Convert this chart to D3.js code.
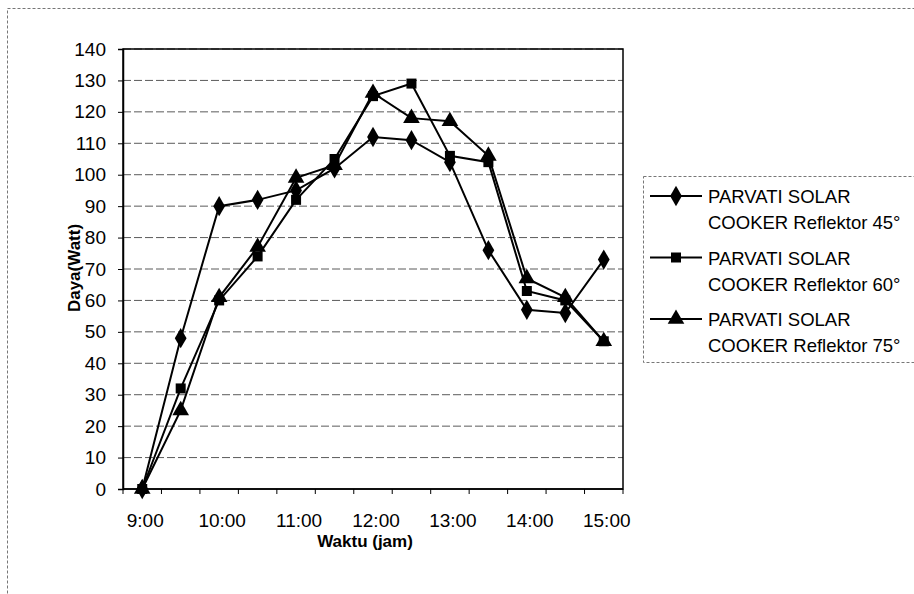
<!DOCTYPE html>
<html>
<head>
<meta charset="utf-8">
<script src="https://cdn.jsdelivr.net/npm/d3@7"></script>
<style>
  html, body { margin: 0; padding: 0; background: #fff; }
  svg { display: block; font-family: Arial, "Liberation Sans", sans-serif; }
</style>
</head>
<body>
<svg id="chart" width="914" height="594"></svg>
<script>
// Measurement times (every 30 minutes) and solar cooker power in watts
const times = ["9:00", "9:30", "10:00", "10:30", "11:00", "11:30", "12:00",
               "12:30", "13:00", "13:30", "14:00", "14:30", "15:00"];
const tickLabels = ["9:00", "10:00", "11:00", "12:00", "13:00", "14:00", "15:00"];
const yTicks = [0, 10, 20, 30, 40, 50, 60, 70, 80, 90, 100, 110, 120, 130, 140];

const reflektor45 = [0, 48, 90, 92, 95, 102, 112, 111, 104, 76, 57, 56, 73];
const reflektor60 = [0, 32, 60, 74, 92, 105, 125, 129, 106, 104, 63, 60, 47];
const reflektor75 = [0, 25, 61, 77, 99, 103, 126, 118, 117, 106, 67, 61, 47];

const seriesNames = [
  ["PARVATI SOLAR", "COOKER Reflektor 45°"],
  ["PARVATI SOLAR", "COOKER Reflektor 60°"],
  ["PARVATI SOLAR", "COOKER Reflektor 75°"]
];
const seriesValues = [reflektor45, reflektor60, reflektor75];
const seriesSymbols = [d3.symbolDiamond, d3.symbolSquare, d3.symbolTriangle];
const symbolSizes = [120, 100, 120];

const svg = d3.select("#chart");

// Outer chart frame (dotted)
svg.append("rect")
  .attr("x", 7.5).attr("y", 8.5).attr("width", 1000).attr("height", 1000)
  .attr("fill", "none").attr("stroke", "#777").attr("stroke-width", 1)
  .attr("stroke-dasharray", "3,2");

const plot = { left: 123, right: 623, top: 49, bottom: 489 };

const x = d3.scaleBand().domain(times).range([plot.left, plot.right]);
const y = d3.scaleLinear().domain([0, 140]).range([plot.bottom, plot.top]);
const cx = t => x(t) + x.bandwidth() / 2;

// Horizontal gridlines
svg.append("g")
  .selectAll("line")
  .data(yTicks.filter(v => v > 0))
  .join("line")
  .attr("x1", plot.left).attr("x2", plot.right)
  .attr("y1", d => y(d)).attr("y2", d => y(d))
  .attr("stroke", "#333").attr("stroke-width", 1)
  .attr("stroke-dasharray", "8,3")
  .attr("opacity", 0.8);

// Plot area border
svg.append("rect")
  .attr("x", plot.left).attr("y", plot.top)
  .attr("width", plot.right - plot.left).attr("height", plot.bottom - plot.top)
  .attr("fill", "none").attr("stroke", "#000").attr("stroke-width", 1.5);

// Y axis
const yAxis = svg.append("g")
  .attr("transform", `translate(${plot.left},0)`)
  .call(d3.axisLeft(y).tickValues(yTicks).tickSize(5).tickPadding(12));
yAxis.select(".domain").attr("stroke", "#000").attr("stroke-width", 1.5);
yAxis.selectAll("text").attr("font-size", 19).attr("fill", "#000")
  .attr("font-family", "Arial, 'Liberation Sans', sans-serif");

// X axis: ticks between categories, labels every hour
const xAxisG = svg.append("g").attr("transform", `translate(0,${plot.bottom})`);
xAxisG.append("line")
  .attr("x1", plot.left).attr("x2", plot.right)
  .attr("stroke", "#000").attr("stroke-width", 1.5);
const boundaries = times.map(t => x(t)).concat([plot.right]);
xAxisG.selectAll("line.tick")
  .data(boundaries)
  .join("line")
  .attr("class", "tick")
  .attr("x1", d => d).attr("x2", d => d)
  .attr("y1", 0).attr("y2", 5)
  .attr("stroke", "#000");
xAxisG.selectAll("text")
  .data(tickLabels)
  .join("text")
  .attr("x", d => cx(d) + 3)
  .attr("y", 38)
  .attr("text-anchor", "middle")
  .attr("font-size", 19)
  .text(d => d);

// Axis titles
svg.append("text")
  .attr("x", 365).attr("y", 547)
  .attr("text-anchor", "middle")
  .attr("font-size", 17).attr("font-weight", "bold")
  .text("Waktu (jam)");

svg.append("text")
  .attr("transform", "translate(80,268) rotate(-90)")
  .attr("text-anchor", "middle")
  .attr("font-size", 17).attr("font-weight", "bold")
  .text("Daya(Watt)");

// Series lines and markers
const line = d3.line().x((d, i) => cx(times[i])).y(d => y(d));
seriesValues.forEach((vals, s) => {
  svg.append("path")
    .datum(vals)
    .attr("d", line)
    .attr("fill", "none")
    .attr("stroke", "#000")
    .attr("stroke-width", 2);
});
seriesValues.forEach((vals, s) => {
  const sym = d3.symbol().type(seriesSymbols[s]).size(symbolSizes[s]);
  svg.append("g")
    .selectAll("path")
    .data(vals)
    .join("path")
    .attr("transform", (d, i) => `translate(${cx(times[i])},${y(d)})`)
    .attr("d", sym)
    .attr("fill", "#000");
});

// Legend
const legend = svg.append("g");
legend.append("rect")
  .attr("x", 643.5).attr("y", 176.5).attr("width", 400).attr("height", 186)
  .attr("fill", "#fff").attr("stroke", "#777")
  .attr("stroke-dasharray", "3,2");
seriesNames.forEach((name, s) => {
  const cy = 196 + s * 61.5;
  legend.append("line")
    .attr("x1", 650).attr("x2", 702)
    .attr("y1", cy).attr("y2", cy)
    .attr("stroke", "#000").attr("stroke-width", 2);
  legend.append("path")
    .attr("transform", `translate(676,${cy})`)
    .attr("d", d3.symbol().type(seriesSymbols[s]).size(symbolSizes[s])())
    .attr("fill", "#000");
  name.forEach((txt, k) => {
    legend.append("text")
      .attr("x", 708)
      .attr("y", cy + 7 + k * 26)
      .attr("font-size", 18.5)
      .text(txt);
  });
});
</script>
</body>
</html>
